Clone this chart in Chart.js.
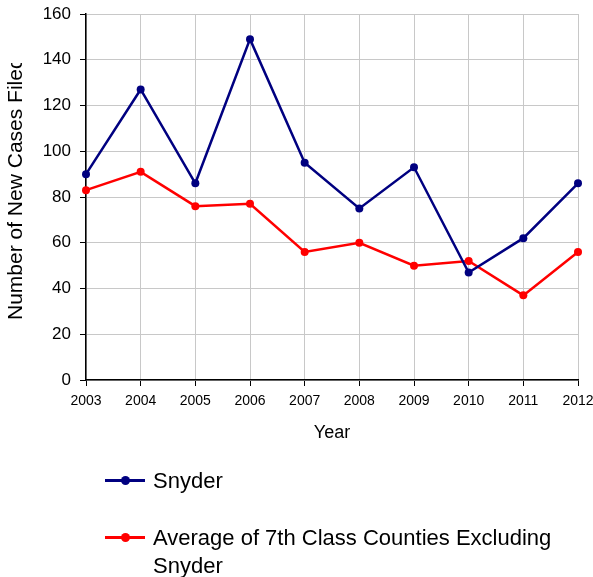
<!DOCTYPE html>
<html>
<head>
<meta charset="utf-8">
<script src="https://cdn.jsdelivr.net/npm/chart.js@4/dist/chart.umd.min.js"></script>
<style>
  html, body { margin: 0; padding: 0; background: #fff; }
  #wrap { position: relative; width: 593px; height: 577px; font-family: 'Liberation Sans', Arial, sans-serif; }
  #chart { position: absolute; left: 0; top: 0; }
  .leg { position: absolute; left: 105px; display: flex; align-items: flex-start; font-size: 22px; line-height: 28px; color: #000; }
  .leg .mark { position: relative; width: 40px; height: 28px; margin-right: 8px; flex: none; }
  .leg .mark::before { content: ''; position: absolute; left: 0; right: 0; top: 12px; height: 3px; background: var(--c); }
  .leg .mark::after { content: ''; position: absolute; left: 16px; top: 9px; width: 9px; height: 9px; border-radius: 50%; background: var(--c); }
  .leg .txt { width: 430px; }
</style>
</head>
<body>
<div id="wrap">
  <canvas id="chart" width="593" height="577"></canvas>
  <div id="legend"></div>
</div>
<script>
// ── data ────────────────────────────────────────────
const years = ['2003', '2004', '2005', '2006', '2007', '2008', '2009', '2010', '2011', '2012'];
const snyder = [90, 127, 86, 149, 95, 75, 93, 47, 62, 86];
const avgOther = [83, 91, 76, 77, 56, 60, 50, 52, 37, 56];
const seriesNames = ['Snyder', 'Average of 7th Class Counties Excluding Snyder'];
const seriesColors = ['#000080', '#ff0000'];
const yTicksMax = 160;
const yStep = 20;

const FONT = "'Liberation Sans', Arial, sans-serif";

// y title is drawn by hand so it can be clipped at the top like the original
const yTitlePlugin = {
  id: 'yTitle',
  afterDraw(chart) {
    const ctx = chart.ctx;
    ctx.save();
    ctx.beginPath();
    ctx.rect(0, 63, 40, 400);
    ctx.clip();
    ctx.translate(16, 320);
    ctx.rotate(-Math.PI / 2);
    ctx.font = '21px ' + FONT;
    ctx.fillStyle = '#000';
    ctx.textAlign = 'left';
    ctx.textBaseline = 'middle';
    ctx.fillText('Number of New Cases Filed', 0, 0);
    ctx.restore();
  }
};

new Chart(document.getElementById('chart'), {
  type: 'line',
  data: {
    labels: years,
    datasets: [snyder, avgOther].map((d, i) => ({
      label: seriesNames[i],
      data: d,
      borderColor: seriesColors[i],
      backgroundColor: seriesColors[i],
      borderWidth: 2.5,
      pointRadius: 4,
      pointBorderWidth: 0,
      tension: 0,
    })),
  },
  options: {
    responsive: false,
    animation: false,
    layout: { padding: { left: 0, top: 14, right: 15, bottom: 133 } },
    plugins: {
      legend: { display: false },
      tooltip: { enabled: false },
    },
    scales: {
      x: {
        offset: false,
        afterFit: (s) => { s.height = 64; s.paddingLeft = 0; s.paddingRight = 0; },
        grid: { color: '#c8c8c8', tickColor: '#000', tickLength: 6, offset: false },
        border: { color: '#000', width: 1.5 },
        ticks: { color: '#000', font: { family: FONT, size: 14 }, padding: 7, maxRotation: 0, autoSkip: false },
        title: { display: true, text: 'Year', color: '#000', font: { family: FONT, size: 18 }, padding: 0 },
      },
      y: {
        min: 0,
        max: yTicksMax,
        afterFit: (s) => { s.width = 86; s.paddingTop = 0; s.paddingBottom = 0; },
        grid: { color: '#c8c8c8', tickColor: '#000', tickLength: 6 },
        border: { color: '#000', width: 1.5 },
        ticks: { stepSize: yStep, color: '#000', font: { family: FONT, size: 17 }, padding: 9 },
      },
    },
  },
  plugins: [yTitlePlugin],
});

// legend below the plot, wraps like the original
const legend = document.getElementById('legend');
const legTops = [467, 524];
seriesNames.forEach((name, i) => {
  const el = document.createElement('div');
  el.className = 'leg';
  el.style.top = legTops[i] + 'px';
  el.innerHTML = `<span class="mark" style="--c:${seriesColors[i]}"></span><span class="txt">${name}</span>`;
  legend.appendChild(el);
});
</script>
</body>
</html>
